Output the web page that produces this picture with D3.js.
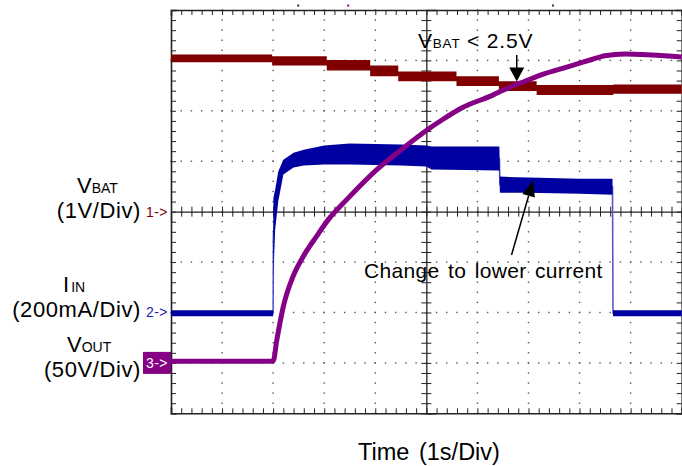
<!DOCTYPE html>
<html><head><meta charset="utf-8">
<script src="https://cdn.jsdelivr.net/npm/d3@7"></script>
<style>
html,body{margin:0;padding:0;background:#fff;}
svg{display:block;}
text{font-family:"Liberation Sans",Arial,Helvetica,sans-serif;fill:#000;}
</style></head><body>
<svg id="c" width="682" height="466"></svg>
<script>
// ---------------- data ----------------
// time in seconds (1 s/div, 10 div), channel values in their own units
const timeDomain = [0, 10];
const divDomain = [-4, 4];

// Channel 1: VBAT (V), 1 V/div, ground at 0 div  — noisy band, stepped
const vbatStepTimes = [0, 1.98, 3.05, 3.90, 4.45, 5.59, 6.42, 7.16, 8.66];
const vbatHigh      = [3.115, 3.085, 3.006, 2.897, 2.778, 2.688, 2.589, 2.510, 2.520];
const vbatLow       = [2.966, 2.897, 2.798, 2.688, 2.589, 2.490, 2.391, 2.312, 2.341];

// Channel 2: IIN (mA), 200 mA/div, ground at -2 div — band envelope
const iinTimes = [0, 2.00, 2.005, 2.04, 2.10, 2.20, 2.40, 2.60, 3.00, 3.50, 4.50, 5.00, 5.10, 6.43, 6.44, 7.00, 8.00, 8.645, 8.655, 10];
const iinHigh  = [9, 9, 455, 487, 559, 606, 634, 646, 662, 670, 666, 662, 658, 658, 539, 535, 531, 531, 9, 9];
const iinLow   = [-15, -15, 158, 329, 440, 547, 575, 583, 587, 587, 583, 579, 567, 563, 475, 475, 471, 467, -15, -15];

// Channel 3: VOUT (V), 50 V/div, ground at -3 div
const voutTimes  = [0, 2.00, 2.07, 2.20, 2.39, 2.59, 2.85, 3.08, 3.44, 4.03, 4.55, 5.00, 5.35, 5.69, 6.28, 6.60, 6.93, 7.26, 7.58, 7.91, 8.24, 8.50, 8.89, 9.41, 10];
const voutValues = [1.7, 1.7, 22.1, 56.0, 85.8, 105.6, 125.5, 142.1, 161.9, 191.7, 213.1, 230.5, 242.4, 252.8, 265.1, 272.7, 279.3, 285.9, 290.9, 295.8, 300.9, 304.7, 306.4, 305.4, 303.4];

// channel settings
const channelIds     = ["1", "2", "3"];
const unitsPerDiv    = [1, 200, 50];
const channelOffset  = [0, -2, -3];
const labelMain      = ["V", "I", "V"];
const labelSub       = ["BAT", "IN", "OUT"];
const labelScale     = ["(1V/Div)", "(200mA/Div)", "(50V/Div)"];
const xAxisTitle     = "Time (1s/Div)";
const noteTop        = ["V", "BAT", " < 2.5V"];
const noteTopTime    = 6.77;   // where the arrow points
const noteTopValue   = 2.58;   // VBAT level the arrow points to (V)
const noteLow        = "Change to lower current";
const noteLowTime    = 7.09;
const noteLowValue   = 540;    // mA
const scopeMarks     = [2.49, 3.47, 7.48];

// ---------------- drawing ----------------
const colVbat = "#800000", colIin = "#0000a0", colIinEdge = "#5c5cd4", colVout = "#850085";
const svg = d3.select("#c");
const x = d3.scaleLinear().domain(timeDomain).range([171, 681.7]);
const y = d3.scaleLinear().domain(divDomain).range([413.3, 10]);
const yc = (ch, v) => y(v / unitsPerDiv[ch] + channelOffset[ch]);

const minorX = d3.range(0, 50.001, 1).map(i => i / 5);
const minorY = d3.range(-20, 20.001, 1).map(i => i / 5);

// dotted grid
const g = svg.append("g");
const dotsX = [], dotsY = [];
d3.range(1, 10).filter(i => i !== 5).forEach(i => minorY.forEach(v => dotsX.push([i, v])));
d3.range(-3, 4).filter(j => j !== 0).forEach(j => minorX.forEach(t => dotsY.push([t, j])));
g.selectAll("rect.d").data(dotsX.concat(dotsY)).join("rect")
  .attr("x", d => x(d[0]) - 0.7).attr("y", d => y(d[1]) - 0.7)
  .attr("width", 1.4).attr("height", 1.4).attr("fill", "#555");

// border ticks via axes
const tick = 5;
const axTop = d3.axisBottom(x).tickValues(minorX).tickSize(tick).tickFormat("");
const axBot = d3.axisTop(x).tickValues(minorX).tickSize(tick).tickFormat("");
const axL = d3.axisRight(y).tickValues(minorY).tickSize(tick).tickFormat("");
const axR = d3.axisLeft(y).tickValues(minorY).tickSize(tick).tickFormat("");
const styleAx = sel => { sel.selectAll("path").attr("stroke", "#222").attr("stroke-width", 1.6);
  sel.selectAll("line").attr("stroke", "#222").attr("stroke-width", 1); };
svg.append("g").attr("transform", `translate(0,${y(4)})`).call(axTop).call(styleAx);
svg.append("g").attr("transform", `translate(0,${y(-4)})`).call(axBot).call(styleAx);
svg.append("g").attr("transform", `translate(${x(0)},0)`).call(axL).call(styleAx);
svg.append("g").attr("transform", `translate(${x(10)},0)`).call(axR).call(styleAx);
svg.selectAll(".domain").attr("stroke-linecap", "square");
// center cross with ticks on both sides
const axCH = d3.axisBottom(x).tickValues(minorX).tickSize(10).tickFormat("");
const axCV = d3.axisRight(y).tickValues(minorY).tickSize(10).tickFormat("");
svg.append("g").attr("transform", `translate(0,${y(0) - 5})`).call(axCH).call(styleAx)
  .select(".domain").attr("transform", "translate(0,5)").attr("stroke-width", 1.3);
svg.append("g").attr("transform", `translate(${x(5) - 5},0)`).call(axCV).call(styleAx)
  .select(".domain").attr("transform", "translate(5,0)").attr("stroke-width", 1.3);
svg.selectAll(".tick line").attr("stroke", "#222");

// scope marks on top
svg.selectAll("rect.m").data(scopeMarks).join("rect")
  .attr("x", d => x(d) - 1).attr("y", 4.5).attr("width", 2).attr("height", 2)
  .attr("fill", (d, i) => i === 1 ? colVout : "#333");

// IIN band
const iinRows = iinTimes.map((t, i) => ({t, hi: iinHigh[i], lo: iinLow[i]}));
svg.append("path").datum(iinRows)
  .attr("d", d3.line().x(d => x(d.t)).y(d => yc(1, (d.hi + d.lo) / 2)))
  .attr("fill", "none").attr("stroke", colIinEdge).attr("stroke-width", 1.6);
svg.append("path").datum(iinRows)
  .attr("d", d3.area().x(d => x(d.t)).y0(d => yc(1, d.lo)).y1(d => yc(1, d.hi)))
  .attr("fill", colIin);

// VBAT band
const vbatRows = vbatStepTimes.map((t, i) => ({t, hi: vbatHigh[i], lo: vbatLow[i]}));
vbatRows.push({t: timeDomain[1], hi: vbatHigh[vbatHigh.length - 1], lo: vbatLow[vbatLow.length - 1]});
svg.append("path").datum(vbatRows)
  .attr("d", d3.area().curve(d3.curveStepAfter).x(d => x(d.t)).y0(d => yc(0, d.lo)).y1(d => yc(0, d.hi)))
  .attr("fill", colVbat);

// VOUT trace
const voutRows = voutTimes.map((t, i) => ({t, v: voutValues[i]}));
svg.append("path").datum(voutRows)
  .attr("d", d3.line().curve(d3.curveMonotoneX).x(d => x(d.t)).y(d => yc(2, d.v)))
  .attr("fill", "none").attr("stroke", colVout).attr("stroke-width", 5);

// channel markers
const markerCol = [colVbat, "#1c1cb4", "#fff"];
channelIds.forEach((id, i) => {
  const yy = y(channelOffset[i]);
  if (i === 2) svg.append("rect").attr("x", 143).attr("y", yy - 11).attr("width", x(0) - 143).attr("height", 22).attr("fill", colVout);
  svg.append("text").attr("x", 146).attr("y", yy + 5).attr("font-size", 14).attr("letter-spacing", 0.4)
    .style("fill", markerCol[i]).text(id + "->");
});

// left labels
const labelBase = [193, 292, 352];
const labelX = [77, 63, 67];
labelMain.forEach((m, i) => {
  const t = svg.append("text").attr("x", labelX[i]).attr("y", labelBase[i]).attr("font-size", 22);
  t.append("tspan").text(m);
  t.append("tspan").attr("font-size", 14).attr("dx", i === 1 ? 2 : 0).text(labelSub[i]);
  svg.append("text").attr("x", 141).attr("y", labelBase[i] + 25).attr("text-anchor", "end")
    .attr("font-size", 22).attr("letter-spacing", 0.6).text(labelScale[i]);
});

// x title
svg.append("text").attr("x", 429).attr("y", 460).attr("text-anchor", "middle")
  .attr("font-size", 23.5).attr("word-spacing", 3).text(xAxisTitle);

// top note + arrow
const ax1 = x(noteTopTime), ay1 = yc(0, noteTopValue);
const tn = svg.append("text").attr("x", 418).attr("y", 47.5).attr("font-size", 21).attr("letter-spacing", 0.8);
tn.append("tspan").text(noteTop[0]);
tn.append("tspan").attr("font-size", 13.5).text(noteTop[1]);
tn.append("tspan").attr("xml:space", "preserve").style("white-space", "pre").text(noteTop[2]);
svg.append("line").attr("x1", ax1).attr("x2", ax1).attr("y1", 55).attr("y2", ay1 - 10)
  .attr("stroke", "#000").attr("stroke-width", 1.5);
svg.append("path").attr("d", `M${ax1 - 7.5},${ay1 - 14}L${ax1 + 7.5},${ay1 - 14}L${ax1},${ay1}Z`).attr("fill", "#000");

// lower note + arrow
const bx = x(noteLowTime), by = yc(1, noteLowValue) + 4;
const sx = 511.5, sy = 255;
const ang = Math.atan2(by - sy, bx - sx);
const hl = 16, hw = 6.5;
const bxb = bx - hl * Math.cos(ang), byb = by - hl * Math.sin(ang);
svg.append("line").attr("x1", sx).attr("y1", sy).attr("x2", bxb).attr("y2", byb)
  .attr("stroke", "#000").attr("stroke-width", 1.5);
svg.append("path").attr("d",
  `M${bx},${by}L${bxb + hw * Math.sin(ang)},${byb - hw * Math.cos(ang)}L${bxb - hw * Math.sin(ang)},${byb + hw * Math.cos(ang)}Z`)
  .attr("fill", "#000");
svg.append("text").attr("x", 364).attr("y", 277.5).attr("font-size", 21)
  .attr("word-spacing", 2.5).attr("letter-spacing", 0.3).text(noteLow);
</script>
</body></html>
